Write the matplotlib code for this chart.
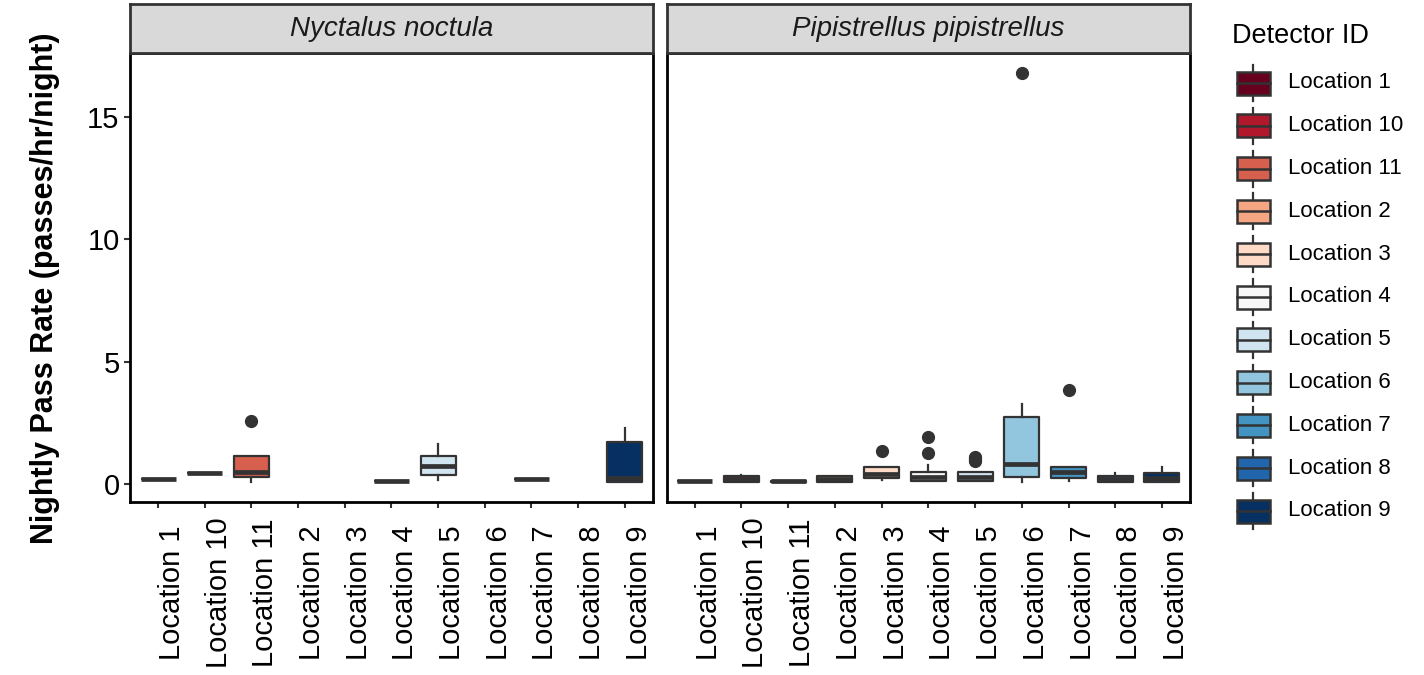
import numpy as np
import matplotlib.pyplot as plt
from matplotlib.patches import Rectangle

plt.rcParams['font.family'] = ['Liberation Sans', 'DejaVu Sans']

locations = ['Location 1', 'Location 10', 'Location 11', 'Location 2', 'Location 3',
             'Location 4', 'Location 5', 'Location 6', 'Location 7', 'Location 8', 'Location 9']
cores = ['#67001F', '#B2182B', '#D6604D', '#F4A582', '#FDDBC7', '#F7F7F7',
         '#D1E5F0', '#92C5DE', '#4393C3', '#2166AC', '#053061']

# estatisticas dos boxplots (None = sem dados)
noc_q1 = [0.20, 0.44, 0.30, None, None, 0.14, 0.37, None, 0.22, None, 0.07]
noc_med = [0.20, 0.44, 0.48, None, None, 0.14, 0.74, None, 0.22, None, 0.25]
noc_q3 = [0.20, 0.44, 1.14, None, None, 0.14, 1.14, None, 0.22, None, 1.72]
noc_lo = [0.20, 0.44, 0.09, None, None, 0.14, 0.16, None, 0.22, None, 0.07]
noc_hi = [0.20, 0.44, 1.14, None, None, 0.14, 1.62, None, 0.22, None, 2.30]
noc_out = [[], [], [2.59], [], [], [], [], [], [], [], []]

pip_q1 = [0.14, 0.08, 0.09, 0.07, 0.23, 0.14, 0.14, 0.27, 0.26, 0.07, 0.07]
pip_med = [0.14, 0.20, 0.11, 0.20, 0.41, 0.30, 0.27, 0.80, 0.48, 0.20, 0.23]
pip_q3 = [0.14, 0.33, 0.13, 0.33, 0.68, 0.50, 0.48, 2.75, 0.68, 0.33, 0.46]
pip_lo = [0.14, 0.08, 0.09, 0.07, 0.16, 0.14, 0.14, 0.09, 0.14, 0.07, 0.07]
pip_hi = [0.14, 0.36, 0.13, 0.33, 0.68, 0.76, 0.50, 3.27, 0.70, 0.44, 0.68]
pip_out = [[], [], [], [], [1.35], [1.28, 1.93], [0.93, 0.98, 1.05, 1.12],
           [16.77], [3.84], [], []]

especies = [
    ('Nyctalus noctula', noc_q1, noc_med, noc_q3, noc_lo, noc_hi, noc_out),
    ('Pipistrellus pipistrellus', pip_q1, pip_med, pip_q3, pip_lo, pip_hi, pip_out),
]

W, H = 1424, 675
fig = plt.figure(figsize=(W / 100, H / 100), dpi=100)

cinza = '#333333'
paineis = [(130, 652.7), (666.7, 1190)]
y_top, y_bot = 53, 501.7

for k, (nome, q1, med, q3, lo, hi, out) in enumerate(especies):
    x0, x1 = paineis[k]
    ax = fig.add_axes([x0 / W, (H - y_bot) / H, (x1 - x0) / W, (y_bot - y_top) / H])
    stats = []
    pos = []
    cor_lista = []
    for i in range(len(locations)):
        if med[i] is None:
            continue
        stats.append(dict(med=med[i], q1=q1[i], q3=q3[i], whislo=lo[i], whishi=hi[i],
                          fliers=out[i]))
        pos.append(i + 1)
        cor_lista.append(cores[i])
    bp = ax.bxp(stats, positions=pos, widths=0.75, patch_artist=True, showcaps=False,
                boxprops=dict(edgecolor=cinza, linewidth=1.6),
                medianprops=dict(color=cinza, linewidth=3.4, solid_capstyle='butt'),
                whiskerprops=dict(color=cinza, linewidth=1.6),
                flierprops=dict(marker='o', markerfacecolor=cinza, markeredgecolor=cinza,
                                markersize=8.5))
    for patch, c in zip(bp['boxes'], cor_lista):
        patch.set_facecolor(c)
        patch.set_joinstyle('round')

    ax.set_xlim(0.4, 11.6)
    ax.set_ylim(-0.72, 17.6)
    ax.set_xticks(range(1, 12))
    ax.set_xticklabels(locations, rotation=90, fontsize=21, va='center', ha='left')
    ax.tick_params(axis='x', color=cinza, width=1.5, length=4.5, labelcolor='black', pad=61)
    ax.set_yticks([0, 5, 10, 15])
    if k == 0:
        ax.set_yticklabels(['0', '5', '10', '15'], fontsize=21)
        ax.tick_params(axis='y', color=cinza, width=1.5, length=4.5, labelcolor='black', pad=3)
    else:
        ax.set_yticklabels([])
        ax.tick_params(axis='y', length=0)
    for s in ax.spines.values():
        s.set_color('black')
        s.set_linewidth(2)

    # faixa do titulo do painel
    strip = fig.add_axes([x0 / W, (H - y_top) / H, (x1 - x0) / W, 49 / H])
    strip.set_facecolor('#D9D9D9')
    strip.set_xticks([])
    strip.set_yticks([])
    for s in strip.spines.values():
        s.set_color(cinza)
        s.set_linewidth(2)
    strip.text(0.5, 0.5, nome, transform=strip.transAxes, ha='center', va='center',
               fontsize=20, style='italic', color='#1A1A1A')

fig.text(45 / W, 1 - 288 / H, 'Nightly Pass Rate (passes/hr/night)', rotation=90,
         ha='center', va='center', fontsize=22, fontweight='bold')

# legenda desenhada a mao
leg = fig.add_axes([0, 0, 1, 1])
leg.set_xlim(0, W)
leg.set_ylim(H, 0)
leg.axis('off')
leg.text(1232, 36, 'Detector ID', ha='left', va='center', fontsize=19.5)
for i, (rot, c) in enumerate(zip(locations, cores)):
    yc = 83 + i * 42.8
    leg.plot([1253, 1253], [yc - 18, yc + 18], color=cinza, lw=1.6, zorder=1)
    leg.add_patch(Rectangle((1236.5, yc - 11.5), 33, 23, facecolor=c, edgecolor=cinza,
                            linewidth=1.8, zorder=2))
    leg.plot([1236.5, 1269.5], [yc, yc], color=cinza, lw=1.8, zorder=3)
    leg.text(1288, yc, rot, ha='left', va='center', fontsize=16)

fig.savefig('out.png', dpi=100)
